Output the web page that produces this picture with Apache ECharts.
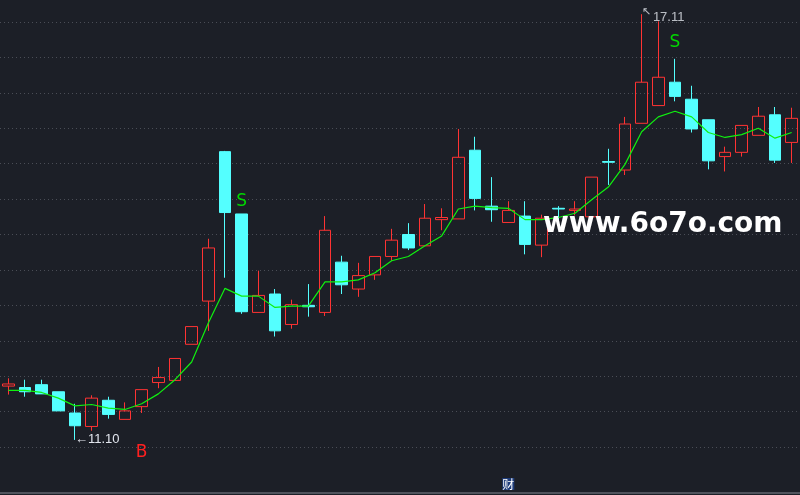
<!DOCTYPE html>
<html>
<head>
<meta charset="utf-8">
<script src="https://cdn.jsdelivr.net/npm/echarts@6/dist/echarts.min.js"></script>
<style>
html,body{margin:0;padding:0;background:#1c1f27;}
#c{width:800px;height:495px;}
</style>
</head>
<body>
<div id="c"></div>
<script>
// ---- data ----
const days = Array.from({length: 48}, (_, i) => 'D' + (i + 1));
// [open, close, low, high]
const opens  = [11.86,11.84,11.88,11.78,11.48,11.29,11.66,11.39,11.57,11.91,11.94,12.45,13.06,15.17,14.29,12.90,13.16,12.73,13.00,12.90,13.61,13.23,13.43,13.69,14.00,13.84,14.21,14.22,15.19,14.40,14.17,14.26,13.85,14.37,14.34,14.25,15.03,14.91,15.57,15.82,16.15,15.91,15.62,15.10,15.16,15.40,15.69,15.30];
const closes = [11.89,11.78,11.75,11.51,11.30,11.69,11.46,11.51,11.81,11.98,12.25,12.70,13.81,14.31,12.91,13.14,12.64,13.01,12.98,14.06,13.29,13.42,13.69,13.92,13.81,14.23,14.24,15.09,14.51,14.35,14.34,13.86,14.23,14.36,14.36,14.81,15.02,15.56,16.15,16.22,15.95,15.49,15.04,15.16,15.54,15.67,15.05,15.64];
const lows   = [11.74,11.71,11.75,11.51,11.10,11.23,11.40,11.39,11.48,11.83,11.94,12.45,12.64,13.39,12.88,12.90,12.56,12.67,12.84,12.85,13.16,13.12,13.36,13.63,13.78,13.84,14.06,14.22,14.34,14.18,14.17,13.72,13.68,14.20,14.27,14.22,14.70,14.84,15.57,15.82,15.88,15.44,14.92,14.89,15.10,15.40,15.01,15.01];
const highs  = [11.97,11.95,11.95,11.78,11.61,11.73,11.71,11.63,11.81,12.13,12.25,12.70,13.94,15.18,14.29,13.49,13.23,13.08,13.30,14.26,13.70,13.60,13.69,14.08,14.16,14.43,14.37,15.49,15.38,14.81,14.47,14.47,14.28,14.40,14.47,14.81,15.21,15.66,17.11,17.01,16.48,16.10,15.62,15.24,15.54,15.80,15.80,15.79];
const maLine = [11.80,11.80,11.77,11.69,11.58,11.60,11.55,11.53,11.61,11.75,11.95,12.20,12.75,13.24,13.13,13.13,12.97,12.99,12.99,13.33,13.33,13.36,13.46,13.63,13.69,13.84,13.98,14.36,14.40,14.38,14.37,14.21,14.21,14.24,14.30,14.49,14.67,14.99,15.45,15.66,15.74,15.66,15.44,15.37,15.41,15.50,15.36,15.44];
const buyIdx = [8];
const sellIdx = [14, 40];
const lowIdx = 4, highIdx = 38;
const finReportIdx = [30];
const finReportText = '财';
const watermark = 'www.6o7o.com';

// ---- build ----
const kData = opens.map((o, i) => [o, closes[i], lows[i], highs[i]]);
const sellOffsets = [-12, -16];

const marks = [];
buyIdx.forEach(i => marks.push({coord: [i, lows[i]], symbolSize: 0,
  label: {show: true, position: 'inside', formatter: 'B', offset: [0, 40], color: '#ff2020', fontSize: 17, fontFamily: 'DejaVu Sans'}}));
sellIdx.forEach((i, k) => marks.push({coord: [i, highs[i]], symbolSize: 0,
  label: {show: true, position: 'inside', formatter: 'S', offset: [0, sellOffsets[k]], color: '#00d800', fontSize: 17, fontFamily: 'DejaVu Sans'}}));
marks.push({coord: [lowIdx, lows[lowIdx]], symbolSize: 0,
  label: {show: true, position: 'right', distance: 0, formatter: '←' + lows[lowIdx].toFixed(2), color: '#e2e6ee', fontSize: 13, fontFamily: 'Liberation Sans'}});

const chart = echarts.init(document.getElementById('c'), null, {renderer: 'canvas'});
chart.setOption({
  backgroundColor: '#1c1f27',
  animation: false,
  grid: {left: 0, right: 0, top: 22, bottom: 48},
  xAxis: {
    type: 'category', data: days, boundaryGap: true, offset: 46,
    axisLine: {show: true, lineStyle: {color: '#50535c', width: 2}},
    axisTick: {show: false},
    splitLine: {show: false},
    axisLabel: {
      show: true, inside: true, interval: 0, margin: 3,
      formatter: (v, i) => finReportIdx.includes(i) ? finReportText : '',
      color: '#ffffff', fontSize: 12, fontFamily: 'Noto Sans CJK SC',
      backgroundColor: '#1e3c7a', padding: [0, 0]
    }
  },
  yAxis: {
    type: 'value', min: 11, max: 17, interval: 0.5, scale: true,
    axisLine: {show: false}, axisTick: {show: false}, axisLabel: {show: false},
    splitLine: {show: true, lineStyle: {color: '#4a4d56', width: 1, type: [1, 3]}}
  },
  series: [
    {
      type: 'candlestick', data: kData, barWidth: 12, clip: false,
      itemStyle: {
        color: 'transparent', color0: '#54ffff',
        borderColor: '#ff3333', borderColor0: '#54ffff', borderWidth: 1
      },
      markPoint: {symbol: 'circle', symbolSize: 0, data: marks, silent: true}
    },
    {
      type: 'line', data: maLine, showSymbol: false, symbol: 'none', z: 5,
      lineStyle: {color: '#10f010', width: 1.2}
    },
    {
      type: 'scatter', clip: false, symbolSize: 0, silent: true, z: 6,
      data: [[highIdx, highs[highIdx]]],
      label: {
        show: true, position: 'right', distance: 0,
        formatter: () => '{a|↖}{b|' + highs[highIdx].toFixed(2) + '}',
        rich: {
          a: {color: '#e2e6ee', fontSize: 11, fontFamily: 'DejaVu Sans', padding: [0, 2, 4, 0]},
          b: {color: '#e2e6ee', fontSize: 13, fontFamily: 'Liberation Sans', padding: [6, 0, 0, 0]}
        }
      }
    }
  ],
  graphic: [{
    type: 'text', left: 543, top: 211, z: 100,
    style: {text: watermark, fill: '#ffffff', font: 'bold 28px "DejaVu Sans"'}
  }]
});
</script>
</body>
</html>
